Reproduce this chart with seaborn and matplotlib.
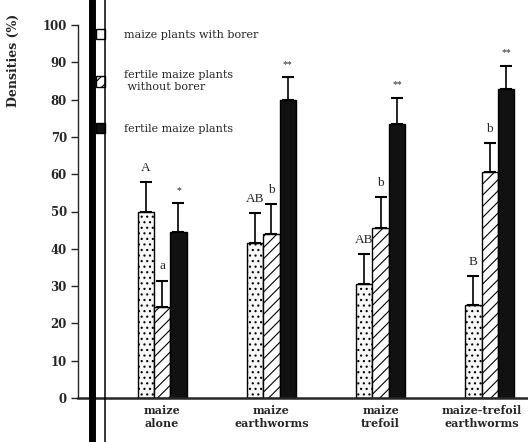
import matplotlib
matplotlib.use('Agg')
import matplotlib.pyplot as plt
import matplotlib.transforms as mtransforms
import seaborn as sns
import pandas as pd
from matplotlib.patches import Patch
from matplotlib.lines import Line2D

# treatments on the x axis and the three plant categories
treatments = ["maize\nalone", "maize\nearthworms", "maize\ntrefoil", "maize-trefoil\nearthworms"]
series = ["maize plants with borer", "fertile maize plants\n without borer", "fertile maize plants"]

# densities (%), with the upper error bar length
with_borer = [49.8, 41.5, 30.6, 25.0]
with_borer_err = [8.0, 8.0, 8.0, 7.7]
no_borer = [24.5, 44.0, 45.6, 60.5]
no_borer_err = [7.0, 8.0, 8.2, 7.9]
fertile = [44.5, 79.8, 73.5, 82.8]
fertile_err = [7.8, 6.2, 7.0, 6.3]

# significance marks above each bar
letters_borer = ["A", "AB", "AB", "B"]
letters_no_borer = ["a", "b", "b", "b"]
stars_fertile = ["*", "**", "**", "**"]

yticks = [0, 10, 20, 30, 40, 50, 60, 70, 80, 90, 100]

rows = []
for i, t in enumerate(treatments):
    rows.append([t, series[0], with_borer[i]])
    rows.append([t, series[1], no_borer[i]])
    rows.append([t, series[2], fertile[i]])
df = pd.DataFrame(rows, columns=["treatment", "type", "density"])

sns.set_style('ticks')
plt.rcParams['font.family'] = ['Liberation Serif', 'DejaVu Serif']
plt.rcParams['hatch.linewidth'] = 0.8

fig = plt.figure(figsize=(5.28, 4.42), dpi=100)
ax = fig.add_axes([78 / 528, 1 - 398 / 442, 450 / 528, 373 / 442])

colors = {series[0]: "#f7f7f7", series[1]: "white", series[2]: "#111111"}
hatches = ["...", "///", ""]

sns.barplot(data=df, x="treatment", y="density", hue="type", order=treatments,
            hue_order=series, palette=colors, width=0.45, saturation=1,
            edgecolor="black", linewidth=1, legend=False, ax=ax)

errs = [with_borer_err, no_borer_err, fertile_err]
marks = [letters_borer, letters_no_borer, stars_fertile]
bar_groups = list(ax.containers)
for k, cont in enumerate(bar_groups):
    xs = [b.get_x() + b.get_width() / 2 for b in cont.patches]
    ys = [b.get_height() for b in cont.patches]
    for b in cont.patches:
        b.set_hatch(hatches[k])
    ax.errorbar(xs, ys, yerr=[[0] * len(ys), errs[k]], fmt="none",
                ecolor="black", elinewidth=1.2, capsize=4, capthick=1.5, zorder=1)
    for x, y, e, m in zip(xs, ys, errs[k], marks[k]):
        size = 7 if "*" in m else 9.5
        ax.text(x, y + e + 2.2, m, ha="center", va="bottom", fontsize=size)

ax.set_ylim(0, 100)
ax.set_xlim(-0.77, 3.35)
ax.set_yticks(yticks)
ax.tick_params(axis="y", length=5, width=1, pad=3)
ax.tick_params(axis="x", length=0, pad=5)
for lab in ax.get_yticklabels():
    lab.set_fontweight("bold")
    lab.set_family("DejaVu Serif")
    lab.set_fontsize(8.5)
for lab in ax.get_xticklabels():
    lab.set_fontweight("bold")
    lab.set_family("DejaVu Serif")
    lab.set_fontsize(8.0)
    lab.set_linespacing(1.2)
# the last group label sits a little left of its bars in the original
last = ax.get_xticklabels()[-1]
last.set_transform(last.get_transform() +
                   mtransforms.ScaledTranslation(-8 / 100, 0, fig.dpi_scale_trans))
ax.set_xlabel("")
ax.set_ylabel("Densities (%)", fontsize=9, fontweight="bold", family="DejaVu Serif")
ax.yaxis.set_label_coords(-0.128, 0.905)
sns.despine(ax=ax)
ax.spines["bottom"].set_linewidth(1.8)
ax.spines["left"].set_linewidth(1)

handles = [Patch(facecolor=colors[s], edgecolor="black", hatch=h, label=s)
           for s, h in zip(series, ["", "///", ""])]
leg = ax.legend(handles=handles, loc="upper left", bbox_to_anchor=(0.04, 0.99),
                frameon=False, prop={"family": "DejaVu Serif", "size": 8},
                handlelength=0.82, handleheight=1.1, handletextpad=1.7,
                labelspacing=2.75, borderpad=0, borderaxespad=0)
for t in leg.get_texts():
    t.set_linespacing(1.2)

# scanning marks: thick dark band and thin line down the page
fig.add_artist(Line2D([91.5 / 528, 91.5 / 528], [0, 1], transform=fig.transFigure,
                      color="black", linewidth=5))
fig.add_artist(Line2D([105 / 528, 105 / 528], [0, 1], transform=fig.transFigure,
                      color="black", linewidth=1.1))

plt.savefig("out.png", dpi=100)
